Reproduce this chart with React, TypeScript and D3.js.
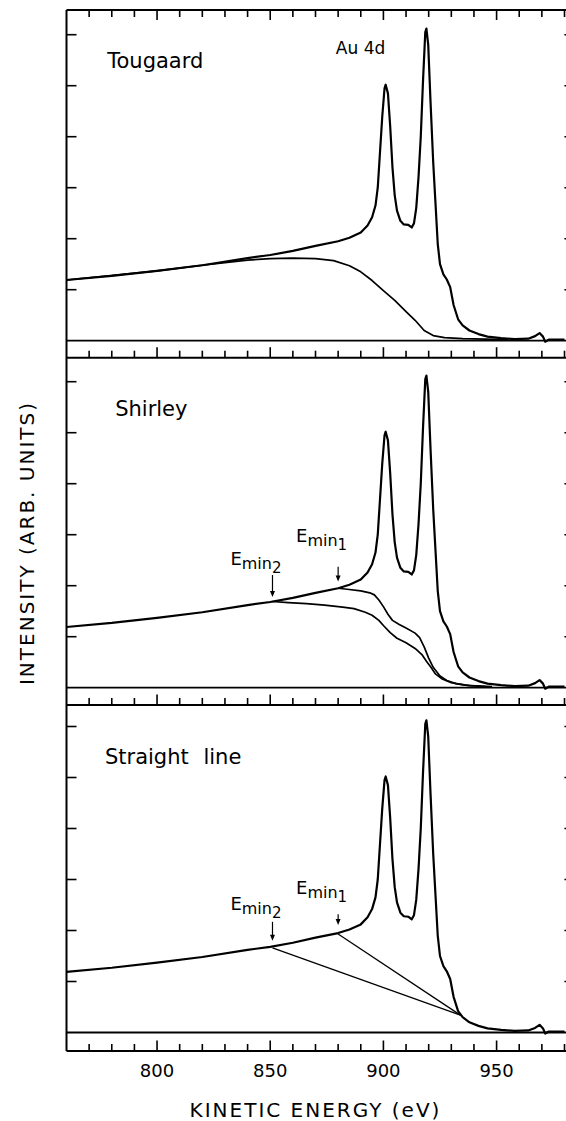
import React from 'react';
import * as d3 from 'd3';

// Au 4d spectrum, kinetic energy (eV) vs intensity (in y-tick units)
const spectrumE = [760, 780, 800, 820, 840, 850, 860, 870, 880, 885, 890, 893, 895, 896.5, 897.5, 898.5, 899.5, 900.5, 901, 902, 903, 904, 905, 906, 907.5, 909, 911, 912.5, 913.5, 914.5, 915.5, 916.5, 917.5, 918.5, 919, 919.8, 920.8, 922, 923, 924, 925, 926.5, 928, 929.5, 931, 933, 935, 938, 942, 946, 952, 958, 964, 967, 969, 970.5, 971.5, 973, 980];
const spectrumI = [1.19, 1.27, 1.37, 1.48, 1.62, 1.68, 1.76, 1.86, 1.95, 2.02, 2.12, 2.26, 2.42, 2.65, 3.0, 3.7, 4.4, 4.95, 5.02, 4.85, 4.2, 3.4, 2.85, 2.55, 2.35, 2.28, 2.27, 2.22, 2.3, 2.6, 3.2, 4.0, 5.1, 6.05, 6.12, 5.8, 4.7, 3.5, 2.7, 1.9, 1.5, 1.3, 1.2, 1.05, 0.7, 0.42, 0.3, 0.2, 0.13, 0.08, 0.05, 0.03, 0.04, 0.09, 0.15, 0.08, -0.02, 0.02, 0.02];

// Tougaard background
const tougaardE = [760, 800, 820, 840, 850, 860, 870, 878, 885, 890, 895, 900, 905, 910, 914, 918, 922, 927, 935, 945, 955];
const tougaardI = [1.19, 1.37, 1.48, 1.58, 1.61, 1.62, 1.61, 1.57, 1.47, 1.35, 1.18, 0.98, 0.79, 0.57, 0.4, 0.2, 0.1, 0.06, 0.04, 0.03, 0.02];

// Shirley backgrounds from Emin1 and Emin2
const shirley1E = [880, 884, 890, 894, 896, 898, 900, 902, 904, 907, 910, 914, 916, 918, 920, 922, 925, 928, 932, 938, 948];
const shirley1I = [1.95, 1.93, 1.9, 1.86, 1.82, 1.72, 1.59, 1.44, 1.32, 1.24, 1.17, 1.07, 0.98, 0.8, 0.58, 0.4, 0.23, 0.14, 0.08, 0.04, 0.02];
const shirley2E = [851, 858, 866, 874, 882, 887, 892, 895, 898, 900, 903, 906, 910, 914, 917, 919, 921, 923, 926, 930, 936, 945];
const shirley2I = [1.69, 1.67, 1.65, 1.62, 1.58, 1.55, 1.48, 1.42, 1.32, 1.22, 1.08, 0.97, 0.88, 0.77, 0.65, 0.52, 0.4, 0.27, 0.17, 0.1, 0.05, 0.02];

// straight line backgrounds: start at Emin, end at common point
const straightStartE = [880, 851];
const straightStartI = [1.93, 1.66];
const straightEndE = 934;
const straightEndI = 0.34;

// Emin arrows (panel index, energy, label / tail / tip intensity)
const eminPanel = [1, 1, 2, 2];
const eminSub = ['1', '2', '1', '2'];
const eminE = [880, 851, 880, 851];
const eminLabelI = [2.86, 2.41, 2.72, 2.4];
const eminTailI = [2.37, 2.21, 2.32, 2.17];
const eminTipI = [2.08, 1.78, 2.11, 1.8];

const panelNames = ['Tougaard', 'Shirley', 'Straight line'];
const panelNameE = [778, 781.5, 777];
const panelNameI = [5.34, 5.33, 5.26];

const xMajor = [800, 850, 900, 950];
const xMinor = d3.range(770, 981, 10);
const yTicks = [1, 2, 3, 4, 5, 6];

const W = 566;
const H = 1121;
const panelTop = [10, 357.7, 705];
const panelZero = [340.7, 687.7, 1032.5];
const panelBottom = [357.7, 705, 1051];
const unit = 51;
const font = "'DejaVu Sans', sans-serif";

const x = d3.scaleLinear().domain([760, 980]).range([66.5, 564.5]);
const xLeft = x(760);
const xRight = x(983.5);

const zip = (a: number[], b: number[]) => a.map((v, i) => [v, b[i]] as [number, number]);

function Panel({ idx }: { idx: number }) {
  const top = panelTop[idx];
  const zero = panelZero[idx];
  const bottom = panelBottom[idx];
  const y = d3.scaleLinear().domain([0, 1]).range([zero, zero - unit]);
  const line = d3.line<[number, number]>().x(d => x(d[0])).y(d => y(d[1]));

  const backgrounds: [number, number][][] = [];
  if (idx === 0) backgrounds.push(zip(tougaardE, tougaardI));
  if (idx === 1) {
    backgrounds.push(zip(shirley1E, shirley1I));
    backgrounds.push(zip(shirley2E, shirley2I));
  }

  return (
    <g>
      <defs>
        <clipPath id={'clip' + idx}>
          <rect x={xLeft} y={top} width={xRight - xLeft} height={zero - top + 4} />
        </clipPath>
      </defs>
      {/* frame lines */}
      {idx === 0 && <line x1={xLeft} x2={xRight} y1={top} y2={top} stroke="#000" strokeWidth={2} />}
      <line x1={xLeft} x2={xRight} y1={zero} y2={zero} stroke="#000" strokeWidth={1.8} />
      <line x1={xLeft} x2={xRight} y1={bottom} y2={bottom} stroke="#000" strokeWidth={2} />
      <line x1={xRight} x2={xRight} y1={top} y2={bottom} stroke="#000" strokeWidth={2} />
      {/* x ticks on strip, pointing up */}
      {xMinor.map(t => (
        <line key={'b' + t} x1={x(t)} x2={x(t)} y1={bottom} y2={bottom - (t % 50 === 0 ? 10.5 : 7)} stroke="#000" strokeWidth={1.6} />
      ))}
      {idx === 0 && xMinor.map(t => (
        <line key={'t' + t} x1={x(t)} x2={x(t)} y1={top} y2={top + (t % 50 === 0 ? 10 : 7)} stroke="#000" strokeWidth={1.6} />
      ))}
      {/* y ticks */}
      {yTicks.map(t => (
        <g key={'y' + t}>
          <line x1={xLeft} x2={xLeft + 10} y1={y(t)} y2={y(t)} stroke="#000" strokeWidth={1.6} />
          <line x1={xRight} x2={xRight - 8} y1={y(t)} y2={y(t)} stroke="#000" strokeWidth={1.6} />
        </g>
      ))}
      <g clipPath={`url(#clip${idx})`} fill="none" stroke="#000" strokeLinejoin="round">
        {backgrounds.map((b, i) => (
          <path key={i} d={line(b) || ''} strokeWidth={1.7} />
        ))}
        {idx === 2 && straightStartE.map((e, i) => (
          <path key={'s' + i} d={line([[e, straightStartI[i]], [straightEndE, straightEndI]]) || ''} strokeWidth={1.3} />
        ))}
        <path d={line(zip(spectrumE, spectrumI)) || ''} strokeWidth={2.2} />
      </g>
      <text x={x(panelNameE[idx])} y={y(panelNameI[idx])} fontFamily={font} fontSize={21} wordSpacing={8} fill="#000">
        {panelNames[idx]}
      </text>
      {idx === 0 && (
        <text x={x(879)} y={y(5.62)} fontFamily={font} fontSize={17} fill="#000">Au 4d</text>
      )}
      {eminE.map((e, i) => eminPanel[i] === idx && (
        <g key={'em' + i}>
          <line x1={x(e)} x2={x(e)} y1={y(eminTailI[i])} y2={y(eminTipI[i]) - 4} stroke="#000" strokeWidth={1.2} />
          <path d={`M${x(e) - 2.5},${y(eminTipI[i]) - 6}L${x(e) + 2.5},${y(eminTipI[i]) - 6}L${x(e)},${y(eminTipI[i])}Z`} fill="#000" />
          <text x={x(e) + 9} y={y(eminLabelI[i])} textAnchor="end" fontFamily={font} fill="#000">
            <tspan fontSize={18}>E</tspan>
            <tspan fontSize={16} dy={4}>min</tspan>
            <tspan fontSize={15} dy={4}>{eminSub[i]}</tspan>
          </text>
        </g>
      ))}
    </g>
  );
}

export default function App() {
  return (
    <svg width={W} height={H} style={{ position: 'absolute', left: 0, top: 0, background: '#fff' }}>
      <rect width={W} height={H} fill="#fff" />
      <line x1={xLeft} x2={xLeft} y1={panelTop[0]} y2={panelBottom[2]} stroke="#000" strokeWidth={2} />
      {[0, 1, 2].map(i => <Panel key={i} idx={i} />)}
      {xMajor.map(t => (
        <text key={t} x={x(t)} y={1076.5} textAnchor="middle" fontFamily={font} fontSize={18} fill="#000">{t}</text>
      ))}
      <text x={x(870)} y={1117} textAnchor="middle" fontFamily={font} fontSize={20} letterSpacing={2} fill="#000">
        KINETIC ENERGY (eV)
      </text>
      <text transform="translate(34,543) rotate(-90)" textAnchor="middle" fontFamily={font} fontSize={20} letterSpacing={2} fill="#000">
        INTENSITY (ARB. UNITS)
      </text>
    </svg>
  );
}
